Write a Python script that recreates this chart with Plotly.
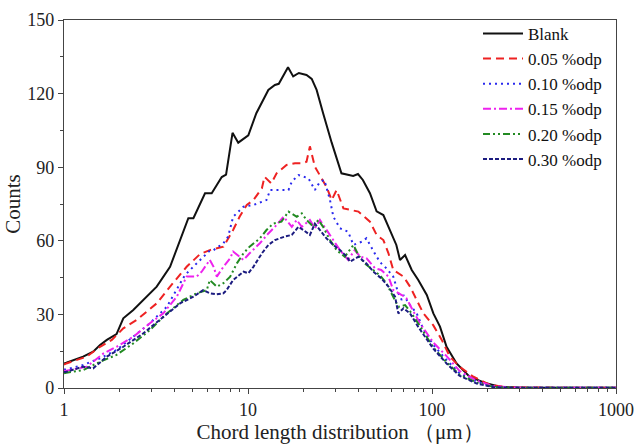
import plotly.graph_objects as go

# ---- data ----
blank_x = [1.0, 1.03, 1.27, 1.44, 1.57, 1.71, 1.93, 2.1, 2.38, 2.81, 3.19, 3.77, 4.27, 4.74, 5.05, 5.84, 6.35, 7.2, 7.6,
           8.24, 8.85, 10.04, 11.1, 12.9, 14.0, 14.7, 16.5, 17.6, 18.9, 20.8, 22.2, 23.6, 25.6, 28.5, 32.2, 35.0,
           37.3, 39.6, 42.1, 46.0, 50.0, 54.4, 59.0, 64.0, 67.0, 71.4, 77.6, 84.2, 93.7, 101.7, 110.5, 120.0,
           136.0, 160.0, 197.0, 233.0, 300.0, 400.0, 600.0, 1000.0]
blank_y = [10.0, 10.3, 12.8, 14.8, 17.5, 19.6, 22.0, 28.4, 31.8, 37.0, 41.3, 49.4, 60.3, 69.2, 69.2, 79.4, 79.4, 86.0, 87.0,
           104.0, 100.0, 103.0, 112.0, 121.5, 123.5, 124.0, 130.7, 127.0, 128.4, 127.6, 126.0, 121.5, 112.0, 100.0, 87.5, 86.8,
           86.4, 87.2, 84.8, 79.4, 72.0, 70.5, 64.4, 58.3, 52.2, 54.2, 48.1, 44.0, 37.9, 30.4, 25.0, 16.8,
           10.0, 4.6, 1.9, 0.5, 0.2, 0.1, 0.1, 0.1]

p05_x = [1.0, 1.03, 1.33, 1.57, 1.82, 2.1, 2.48, 3.19, 3.77, 4.64, 5.49, 6.2, 7.35, 8.3, 9.0, 9.85, 10.7, 11.9, 12.3,
         13.4, 14.3, 16.2, 18.0, 19.6, 20.8, 21.7, 23.1, 24.6, 26.7, 28.5, 30.3, 33.0, 35.8, 39.8, 46.0, 50.0, 54.4,
         58.0, 61.6, 70.0, 76.0, 82.6, 89.8, 101.7, 113.0, 125.0, 141.0, 168.0, 207.0, 260.0, 350.0, 500.0, 1000.0]
p05_y = [9.5, 10.0, 12.8, 16.8, 19.6, 24.3, 27.7, 34.5, 41.3, 49.4, 54.6, 56.2, 57.6, 64.4, 69.8, 74.6, 76.6, 81.4, 86.1,
         83.4, 87.5, 90.9, 91.6, 91.6, 92.2, 98.5, 90.2, 86.8, 82.0, 76.6, 80.7, 73.2, 72.5, 71.9, 67.8, 62.4, 60.3,
         54.9, 48.1, 45.4, 41.3, 35.9, 30.4, 25.5, 19.6, 12.8, 8.7, 4.6, 1.2, 0.3, 0.1, 0.1, 0.1]

p10_x = [1.0, 1.03, 1.27, 1.57, 1.93, 2.38, 2.93, 3.62, 4.1, 4.54, 5.15, 6.2, 6.5, 7.35, 7.8, 8.3, 9.45, 10.7, 12.6,
         13.2, 14.6, 16.6, 17.3, 18.8, 21.3, 23.1, 24.6, 26.0, 27.9, 29.1, 31.6, 35.0, 37.4, 41.5, 44.0, 47.0, 50.0,
         53.0, 56.5, 61.6, 65.6, 68.5, 70.0, 76.0, 82.6, 89.8, 101.7, 120.0, 141.0, 175.0, 216.0, 300.0, 500.0, 1000.0]
p10_y = [7.5, 7.6, 9.4, 12.1, 15.5, 20.9, 26.4, 33.1, 40.0, 46.0, 50.1, 56.0, 56.2, 59.0, 61.7, 69.8, 73.9, 74.6, 76.6,
         80.7, 80.7, 80.7, 84.1, 86.8, 85.5, 80.7, 84.1, 84.8, 76.6, 69.8, 65.1, 63.7, 58.3, 59.6, 61.0, 56.9, 53.5,
         50.8, 48.8, 45.4, 38.6, 35.9, 37.9, 33.8, 30.4, 24.0, 17.5, 11.4, 6.0, 2.6, 0.5, 0.1, 0.1, 0.1]

p15_x = [1.0, 1.03, 1.33, 1.64, 1.93, 2.38, 2.93, 3.46, 4.1, 4.64, 5.26, 5.6, 6.2, 6.5, 6.77, 7.35, 8.0, 8.3, 9.0,
         9.45, 10.2, 11.6, 12.9, 14.0, 15.6, 17.3, 18.4, 19.6, 21.7, 23.1, 24.6, 26.7, 29.1, 31.6, 35.0, 38.0,
         40.8, 44.0, 49.0, 53.0, 58.0, 61.6, 68.5, 72.6, 77.6, 86.0, 101.7, 120.0, 141.0, 175.0, 216.0, 300.0, 500.0, 1000.0]
p15_y = [7.0, 7.0, 8.7, 14.1, 16.8, 20.9, 26.4, 30.4, 37.2, 45.4, 45.4, 47.4, 52.2, 49.4, 45.4, 49.4, 52.9, 55.6, 53.5,
         52.2, 54.9, 59.0, 63.0, 65.7, 69.8, 65.7, 68.5, 65.7, 68.5, 65.1, 68.5, 64.4, 60.3, 56.2, 52.2, 56.2,
         53.5, 52.9, 48.8, 48.1, 45.4, 39.9, 37.9, 36.6, 32.5, 26.4, 18.5, 13.0, 7.0, 3.0, 0.7, 0.1, 0.1, 0.1]

p20_x = [1.0, 1.03, 1.27, 1.57, 1.93, 2.38, 2.93, 3.62, 4.45, 5.26, 5.97, 6.2, 6.77, 7.35, 8.0, 8.7, 9.45, 10.2,
         11.6, 12.6, 13.7, 15.2, 16.6, 18.4, 19.6, 20.8, 22.7, 24.1, 25.6, 27.9, 30.3, 33.6, 37.4, 39.8, 43.0, 48.0,
         52.0, 56.5, 59.0, 65.6, 71.4, 77.6, 84.0, 101.7, 120.0, 141.0, 175.0, 216.0, 300.0, 500.0, 1000.0]
p20_y = [6.0, 6.2, 7.3, 10.7, 13.5, 18.2, 23.6, 30.4, 35.9, 38.6, 39.9, 44.0, 41.3, 42.7, 45.4, 50.8, 54.9, 57.6,
         61.0, 64.4, 67.0, 67.8, 71.9, 69.8, 71.2, 68.5, 65.7, 68.5, 65.7, 60.3, 56.2, 53.5, 58.3, 54.2, 50.8, 48.1,
         46.0, 42.7, 39.9, 33.1, 33.8, 30.4, 26.4, 16.5, 10.5, 5.5, 2.2, 0.4, 0.1, 0.1, 0.1]

p30_x = [1.0, 1.03, 1.27, 1.44, 1.71, 2.1, 2.7, 3.46, 4.27, 5.05, 5.7, 6.2, 6.77, 7.35, 7.65, 8.3, 9.45, 10.04, 10.7,
         11.9, 12.9, 14.0, 15.8, 17.3, 18.8, 20.0, 21.7, 23.1, 24.6, 26.7, 29.1, 31.6, 34.5, 35.8, 39.8, 44.0, 48.0,
         53.0, 58.0, 63.0, 65.6, 70.0, 76.0, 84.0, 101.7, 120.0, 141.0, 175.0, 216.0, 300.0, 500.0, 1000.0]
p30_y = [6.5, 6.6, 8.7, 8.0, 12.8, 16.8, 22.3, 29.0, 34.5, 37.2, 39.9, 38.6, 38.2, 38.6, 39.9, 44.0, 47.4, 46.8, 49.4,
         54.9, 58.3, 60.3, 61.7, 62.4, 65.7, 64.4, 62.4, 67.0, 64.4, 61.0, 58.3, 56.2, 53.5, 51.5, 53.5, 50.8, 47.4,
         44.7, 41.3, 37.2, 30.4, 32.5, 30.4, 25.0, 16.0, 10.0, 5.0, 1.8, 0.3, 0.1, 0.1, 0.1]

names = ["Blank", "0.05 %odp", "0.10 %odp", "0.15 %odp", "0.20 %odp", "0.30 %odp"]
xs = [blank_x, p05_x, p10_x, p15_x, p20_x, p30_x]
ys = [blank_y, p05_y, p10_y, p15_y, p20_y, p30_y]
colors = ["#111111", "#ee2222", "#2a2aee", "#ee22ee", "#228a22", "#1c1c80"]
dashes = ["solid", "8px,5px", "2px,4px", "8px,3px,2px,3px", "7px,3px,2px,3px,2px,3px", "4px,2px"]

x_ticks = [1, 10, 100, 1000]
x_minor = [m * d for d in (1, 10, 100) for m in range(2, 10)]
y_ticks = [0, 30, 60, 90, 120, 150]

fig = go.Figure()
for n, x, y, c, d in zip(names, xs, ys, colors, dashes):
    fig.add_trace(go.Scatter(x=x, y=y, mode="lines", name=n,
                             line=dict(color=c, width=2, dash=d)))

font = "Liberation Serif"
fig.update_layout(
    width=634, height=444,
    margin=dict(l=64, r=18, t=20, b=56, autoexpand=False),
    paper_bgcolor="white", plot_bgcolor="white",
    font=dict(family=font, size=18, color="#222"),
    showlegend=True,
    legend=dict(x=0.75, y=1.011, xanchor="left", yanchor="top",
                bgcolor="rgba(0,0,0,0)", borderwidth=0,
                font=dict(family=font, size=17, color="#111"),
                itemwidth=40, tracegroupgap=0),
    xaxis=dict(type="log", range=[0, 3], tickvals=x_ticks,
               ticktext=[str(v) for v in x_ticks], automargin=False,
               ticks="outside", ticklen=5, tickwidth=1, tickcolor="#444",
               minor=dict(tickvals=x_minor, ticks="outside", ticklen=3, tickcolor="#444"),
               showline=True, linecolor="#444", linewidth=1.2, mirror=True,
               showgrid=False, zeroline=False,
               title=dict(text="Chord length distribution （μm）", standoff=2,
                          font=dict(family=font, size=21)),
               tickfont=dict(family=font, size=18)),
    yaxis=dict(range=[0, 150], tickvals=y_ticks, automargin=False,
               ticks="outside", ticklen=5, tickwidth=1, tickcolor="#444",
               minor=dict(dtick=15, ticks="outside", ticklen=3, tickcolor="#444"),
               showline=True, linecolor="#444", linewidth=1.2, mirror=True,
               showgrid=False, zeroline=False,
               title=dict(text="Counts", standoff=0, font=dict(family=font, size=21)),
               tickfont=dict(family=font, size=18)),
)

fig.write_html("out.html", config={"displayModeBar": False},
               post_script="document.body.style.margin='0';document.body.style.padding='0';")
